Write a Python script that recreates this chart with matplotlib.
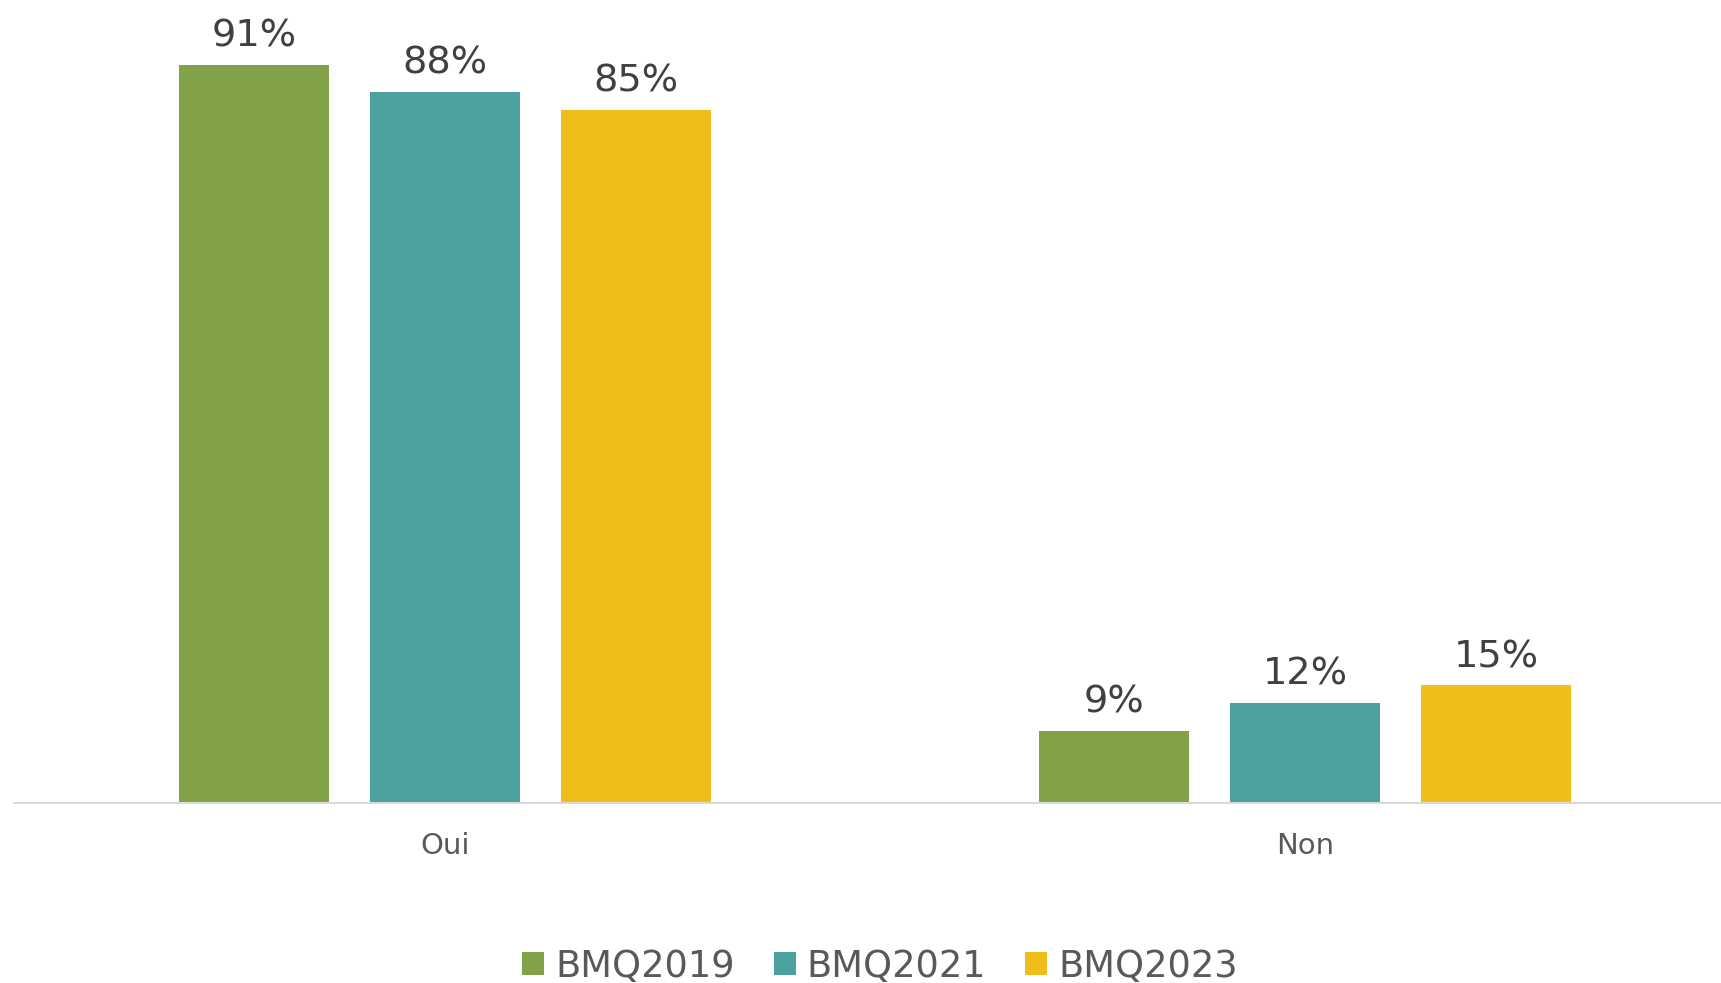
import matplotlib
matplotlib.use("Agg")
import matplotlib.pyplot as plt
import numpy as np

categories = ["Oui", "Non"]
series = ["BMQ2019", "BMQ2021", "BMQ2023"]
# bar heights, labels as printed
bmq2019 = [91.1, 8.9]
bmq2021 = [87.7, 12.3]
bmq2023 = [85.5, 14.5]
labels2019 = ["91%", "9%"]
labels2021 = ["88%", "12%"]
labels2023 = ["85%", "15%"]
colors = ["#82A247", "#4AA19E", "#F0BE19"]

plt.rcParams["font.family"] = ["DejaVu Sans"]

fig = plt.figure(figsize=(17.21, 9.83), dpi=100)
ax = fig.add_axes([14 / 1721, 180 / 983, 1 - 14 / 1721, 770 / 983])

x = np.arange(len(categories))
width = 0.1743
offset = 0.222

data = zip(series, [bmq2019, bmq2021, bmq2023],
           [labels2019, labels2021, labels2023], colors)
for i, (name, vals, labs, c) in enumerate(data):
    bars = ax.bar(x + (i - 1) * offset, vals, width, color=c, label=name)
    ax.bar_label(bars, labels=labs, padding=7.5, fontsize=27.5, color="#404040")

ax.set_xlim(-0.501, 1.483)
ax.set_ylim(0, 95)
ax.set_xticks(x)
ax.set_xticklabels(categories, fontsize=21, color="#595959")
ax.tick_params(axis="x", length=0, pad=21)
ax.set_yticks([])
for s in ["top", "left", "right"]:
    ax.spines[s].set_visible(False)
ax.spines["bottom"].set_color("#D9D9D9")
ax.spines["bottom"].set_linewidth(1.5)

fig.legend(loc="center", bbox_to_anchor=(880 / 1721, 1 - 966 / 983), ncol=3,
           frameon=False, fontsize=26.5, labelcolor="#595959",
           handlelength=0.6, handleheight=0.6, handletextpad=0.3,
           columnspacing=1.05)

fig.savefig("out.png", dpi=100)
